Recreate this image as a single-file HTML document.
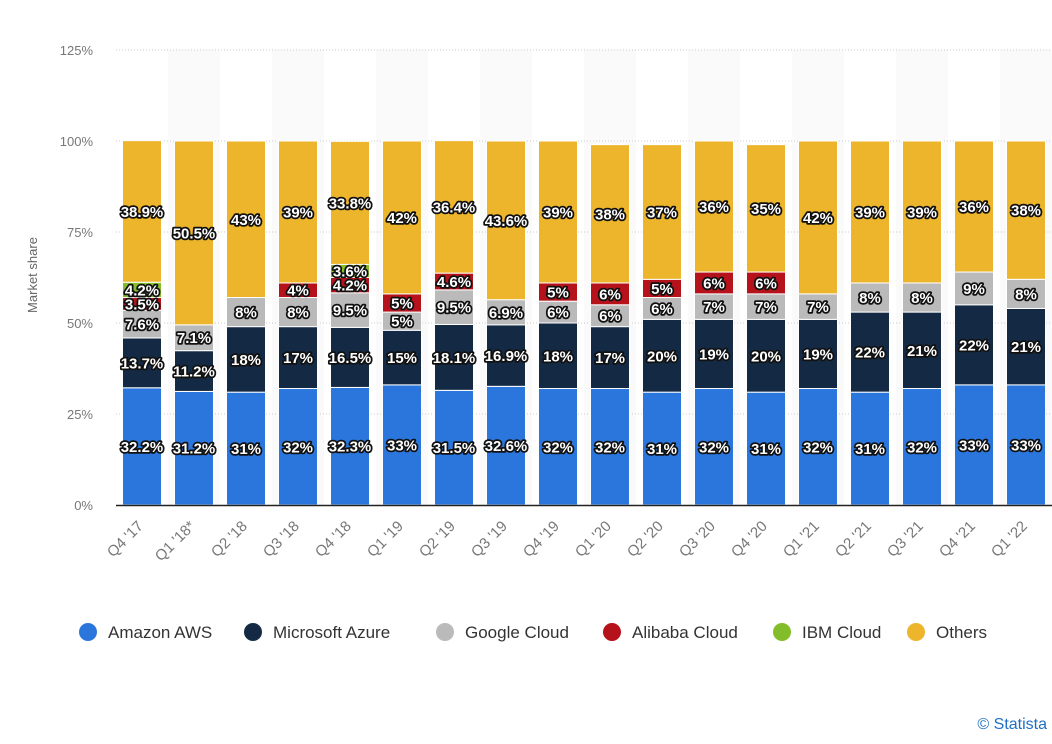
<!DOCTYPE html>
<html><head><meta charset="utf-8"><style>
body{margin:0;background:#fff;width:1052px;height:739px;overflow:hidden;font-family:"Liberation Sans","DejaVu Sans",sans-serif}
.lbl{font-weight:bold;font-size:15px;fill:#fff;stroke:#111;stroke-width:3.5px;paint-order:stroke;stroke-linejoin:round}
</style></head><body>
<svg id="chart" width="1052" height="739" xmlns="http://www.w3.org/2000/svg">
<g id="bg"></g><g id="grid"></g><g id="bars"></g><g id="labels"></g><g id="axes"></g>
<text transform="translate(37,275) rotate(-90)" text-anchor="middle" font-size="13" fill="#666">Market share</text>
<g id="legend"></g>
<text x="1047" y="729" text-anchor="end" font-size="16" fill="#1f6fc5">© Statista</text>
</svg>
<script>
const categories=["Q4 '17","Q1 '18*","Q2 '18","Q3 '18","Q4 '18","Q1 '19","Q2 '19","Q3 '19","Q4 '19","Q1 '20","Q2 '20","Q3 '20","Q4 '20","Q1 '21","Q2 '21","Q3 '21","Q4 '21","Q1 '22"];
const aws=[32.2,31.2,31,32,32.3,33,31.5,32.6,32,32,31,32,31,32,31,32,33,33];
const azure=[13.7,11.2,18,17,16.5,15,18.1,16.9,18,17,20,19,20,19,22,21,22,21];
const google=[7.6,7.1,8,8,9.5,5,9.5,6.9,6,6,6,7,7,7,8,8,9,8];
const alibaba=[3.5,0,0,4,4.2,5,4.6,0,5,6,5,6,6,0,0,0,0,0];
const ibm=[4.2,0,0,0,3.6,0,0,0,0,0,0,0,0,0,0,0,0,0];
const others=[38.9,50.5,43,39,33.8,42,36.4,43.6,39,38,37,36,35,42,39,39,36,38];
const yTicks=[0,25,50,75,100,125];
const seriesNames=["Amazon AWS","Microsoft Azure","Google Cloud","Alibaba Cloud","IBM Cloud","Others"];
const colors=["#2a76dd","#142a44","#bababa","#b5121b","#84bd2a","#ecb52b"];
const series=[aws,azure,google,alibaba,ibm,others];
const NS="http://www.w3.org/2000/svg";
const left=116,band=52,barW=39,y0=505,pxPer=3.64;
const y=v=>y0-v*pxPer;
const xc=i=>left+band*i+band/2;
function mk(tag,attrs,parent){const e=document.createElementNS(NS,tag);for(const k in attrs)e.setAttribute(k,attrs[k]);document.getElementById(parent).appendChild(e);return e;}
categories.forEach((c,i)=>{if(i%2==1){const r=mk('rect',{x:left+band*i,y:y(125),width:band,height:y0-y(125),fill:'#fafafa'},'bg');

}});
yTicks.forEach(t=>{if(t>0){const l=mk('line',{x1:left,x2:1052,y1:y(t),y2:y(t),stroke:'#ccc','stroke-dasharray':'1,2'},'grid');

}
const tx=mk('text',{x:93,y:y(t)+5,'text-anchor':'end','font-size':13,fill:'#777'},'axes');tx.textContent=t+'%';

});
const ax=mk('line',{x1:left,x2:1052,y1:y0+0.5,y2:y0+0.5,stroke:'#222','stroke-width':1.5},'axes');


categories.forEach((c,i)=>{let cum=0;
series.forEach((s,k)=>{const v=s[i];if(v>0){const yt=y(cum+v),yb=y(cum);
const r=mk('rect',{x:xc(i)-barW/2,y:yt,width:barW,height:yb-yt,fill:colors[k],stroke:'#fff','stroke-width':1},'bars');


const t=mk('text',{x:xc(i),y:(yt+yb)/2+5.5,'text-anchor':'middle',class:'lbl'},'labels');t.textContent=v+'%';

}
cum+=v;});
const xl=mk('text',{transform:`translate(${xc(i)+2},${y0+22}) rotate(-45)`,'text-anchor':'end','font-size':15,fill:'#777'},'axes');xl.textContent=c;

});
const lx=[88,253,445,612,782,916];
seriesNames.forEach((n,k)=>{const g=mk('g',{},'legend');


const c=document.createElementNS(NS,'circle');c.setAttribute('cx',lx[k]);c.setAttribute('cy',632);c.setAttribute('r',9);c.setAttribute('fill',colors[k]);g.appendChild(c);
const t=document.createElementNS(NS,'text');t.setAttribute('x',lx[k]+20);t.setAttribute('y',638);t.setAttribute('font-size',17);t.setAttribute('fill','#333');t.textContent=n;g.appendChild(t);});
</script>
</body></html>
